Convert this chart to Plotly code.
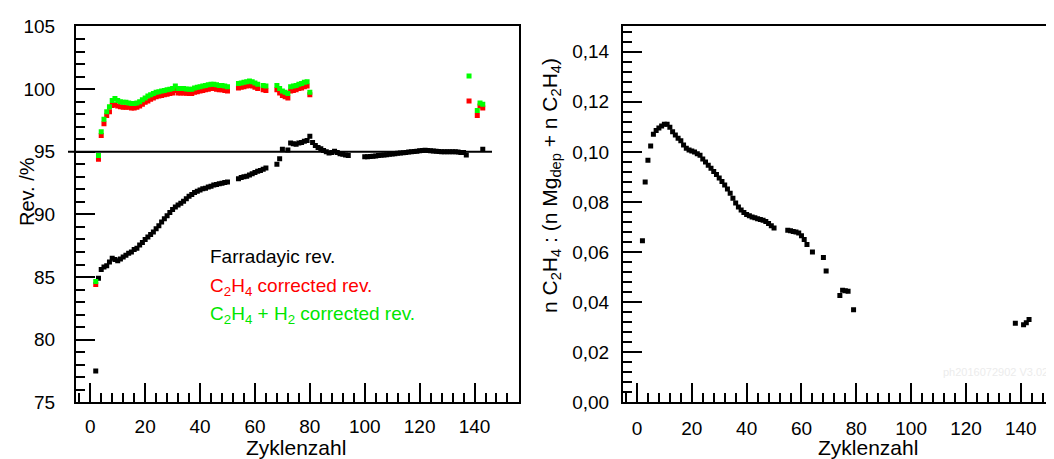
import plotly.graph_objects as go

# ---------------- data ----------------
cyc_far = [2, 3, 4, 5, 6, 7, 8, 9, 10, 11, 12, 13, 14, 15, 16, 17, 18, 19, 20,
           21, 22, 23, 24, 25, 26, 27, 28, 29, 30, 31, 32, 33, 34, 35, 36, 37, 38, 39, 40,
           41, 42, 43, 44, 45, 46, 47, 48, 49, 50,
           54, 55, 56, 57, 58, 59, 60, 61, 62, 63, 64,
           68, 69, 70, 72, 73, 74, 75, 76, 77, 78, 79, 80,
           81, 82, 83, 84, 85, 86, 87, 88, 89, 90, 91, 92, 93, 94,
           100, 101, 102, 103, 104, 105, 106, 107, 108, 109, 110, 111, 112, 113, 114, 115,
           116, 117, 118, 119, 120, 121, 122, 123, 124, 125, 126, 127, 128, 129, 130,
           131, 132, 133, 134, 135, 136, 137, 143]
rev_far = [77.5, 84.9, 85.6, 85.8, 85.9, 86.2, 86.5, 86.4, 86.3, 86.45, 86.6, 86.75, 86.9, 87.0, 87.2, 87.3, 87.55, 87.75, 88.0,
           88.2, 88.4, 88.6, 88.85, 89.1, 89.4, 89.65, 89.9, 90.15, 90.4, 90.6, 90.75, 90.9, 91.05, 91.25, 91.45, 91.6, 91.75, 91.85, 91.95,
           92.05, 92.1, 92.2, 92.25, 92.35, 92.4, 92.45, 92.5, 92.55, 92.6,
           92.85, 92.95, 93.0, 93.05, 93.15, 93.25, 93.35, 93.45, 93.5, 93.6, 93.7,
           94.0, 94.45, 95.2, 95.15, 95.7, 95.65, 95.6, 95.7, 95.75, 95.85, 95.9, 96.25,
           95.75, 95.5, 95.35, 95.25, 95.1, 95.0, 94.9, 94.95, 95.05, 94.95, 94.85, 94.8, 94.75, 94.7,
           94.6, 94.6, 94.62, 94.65, 94.67, 94.7, 94.72, 94.75, 94.77, 94.8, 94.82, 94.85, 94.88, 94.9, 94.93, 94.95,
           94.98, 95.0, 95.03, 95.05, 95.08, 95.1, 95.12, 95.1, 95.08, 95.07, 95.05, 95.03, 95.0, 95.0, 95.0,
           95.0, 95.0, 95.0, 94.98, 94.95, 94.95, 94.75, 95.2]

cyc_corr = [2, 3, 4, 5, 6, 7, 8, 9, 10, 11, 12, 13, 14, 15, 16, 17, 18, 19, 20,
            21, 22, 23, 24, 25, 26, 27, 28, 29, 30, 31, 32, 33, 34, 35, 36, 37, 38, 39, 40,
            41, 42, 43, 44, 45, 46, 47, 48, 49, 50,
            54, 55, 56, 57, 58, 59, 60, 61, 63, 64,
            68, 69, 70, 71, 72, 73, 74, 75, 76, 77, 78, 79, 80,
            138, 141, 142, 143]
rev_c2h4 = [84.4, 94.4, 96.3, 97.25, 97.9, 98.2, 98.7, 98.75, 98.65, 98.6, 98.55, 98.55, 98.55, 98.5, 98.5, 98.55, 98.65, 98.8, 98.95,
            99.05, 99.2, 99.3, 99.4, 99.45, 99.5, 99.55, 99.6, 99.65, 99.7, 99.9, 99.7, 99.7, 99.7, 99.68, 99.65, 99.65, 99.75, 99.8, 99.85,
            99.9, 99.95, 100.0, 100.05, 100.05, 100.0, 99.95, 99.95, 99.9, 99.85,
            100.1, 100.15, 100.2, 100.25, 100.3, 100.25, 100.15, 100.05, 99.95, 99.9,
            99.95, 99.7, 99.5, 99.4, 99.3, 99.85, 99.9, 99.95, 100.05, 100.1, 100.2, 100.25, 99.55,
            99.05, 97.9, 98.65, 98.5]
rev_c2h4_h2 = [84.65, 94.7, 96.6, 97.6, 98.2, 98.6, 99.1, 99.25, 99.1, 99.0, 98.95, 98.95, 98.9, 98.85, 98.85, 98.9, 99.0, 99.15, 99.3,
               99.45, 99.55, 99.65, 99.75, 99.8, 99.85, 99.9, 99.95, 100.0, 100.05, 100.25, 100.05, 100.05, 100.05, 100.02, 100.0, 100.0, 100.1, 100.15, 100.2,
               100.25, 100.3, 100.35, 100.4, 100.4, 100.35, 100.3, 100.3, 100.25, 100.2,
               100.45, 100.5, 100.55, 100.6, 100.65, 100.6, 100.5, 100.4, 100.3, 100.25,
               100.3, 100.05, 99.85, 99.75, 99.65, 100.2, 100.25, 100.3, 100.4, 100.45, 100.55, 100.6, 99.75,
               101.05, 98.3, 98.9, 98.8]

cyc_ratio = [2, 3, 4, 5, 6, 7, 8, 9, 10, 11, 12, 13, 14, 15, 16, 17, 18, 19, 20,
             21, 22, 23, 24, 25, 26, 27, 28, 29, 30, 31, 32, 33, 34, 35, 36, 37, 38, 39, 40,
             41, 42, 43, 44, 45, 46, 47, 48, 49, 50,
             55, 56, 57, 58, 59, 60, 61, 62, 64, 68, 69, 74, 75, 76, 77, 79,
             138, 141, 142, 143]
ratio = [0.0645, 0.088, 0.0967, 0.1024, 0.107, 0.1085, 0.1095, 0.1103, 0.111, 0.111, 0.1098, 0.108, 0.1067, 0.1055, 0.1045, 0.1028, 0.1015, 0.1008, 0.1004,
         0.1, 0.0993, 0.0987, 0.0972, 0.096, 0.0947, 0.0935, 0.0922, 0.091, 0.0896, 0.0882, 0.0868, 0.0852, 0.0835, 0.0815, 0.0796, 0.078, 0.0768, 0.0758, 0.075,
         0.0745, 0.074, 0.0737, 0.0733, 0.073, 0.0727, 0.0722, 0.0714, 0.0705, 0.0696,
         0.0687, 0.0685, 0.0682, 0.068, 0.0676, 0.0665, 0.065, 0.063, 0.06, 0.0578, 0.0524, 0.0427, 0.0447, 0.0445, 0.0443, 0.037,
         0.0316, 0.031, 0.0318, 0.0331]

ref_level = 95
x_ticks = [0, 20, 40, 60, 80, 100, 120, 140]

# ---------------- figure ----------------
FONT = "Arial, 'Liberation Sans', sans-serif"
PAGE_W, PAGE_H = 1054, 459
OFF = 8                      # default body margin of the html page
W, H = PAGE_W - OFF, PAGE_H - OFF


def fx(px):  # page pixel -> paper x
    return (px - OFF) / W


def fy(py):  # page pixel -> paper y
    return 1 - (py - OFF) / H


fig = go.Figure()

mk = dict(symbol="square", size=5, line=dict(width=0))
fig.add_trace(go.Scatter(x=cyc_far, y=rev_far, mode="markers", marker=dict(color="#000000", **mk),
                         xaxis="x", yaxis="y", name="Farradayic rev.", showlegend=False))
fig.add_trace(go.Scatter(x=cyc_corr, y=rev_c2h4, mode="markers", marker=dict(color="#ff0000", **mk),
                         xaxis="x", yaxis="y", name="C2H4 corrected rev.", showlegend=False))
fig.add_trace(go.Scatter(x=cyc_corr, y=rev_c2h4_h2, mode="markers", marker=dict(color="#00ff00", **mk),
                         xaxis="x", yaxis="y", name="C2H4 + H2 corrected rev.", showlegend=False))
fig.add_trace(go.Scatter(x=cyc_ratio, y=ratio, mode="markers", marker=dict(color="#000000", **mk),
                         xaxis="x2", yaxis="y2", name="ratio", showlegend=False))

ydom = [fy(402.3), fy(25.7)]

axis_common = dict(showgrid=False, zeroline=False, showline=True, linecolor="#000000", linewidth=1.5,
                   ticks="inside", ticklen=20, tickwidth=1.5, tickcolor="#000000", automargin=False,
                   tickfont=dict(family=FONT, size=19, color="#000000"))

fig.update_layout(
    width=W, height=H,
    margin=dict(l=0, r=0, t=0, b=0),
    paper_bgcolor="white", plot_bgcolor="white",
    separators=",.",
    font=dict(family=FONT, color="#000000"),
    xaxis=dict(domain=[fx(75.7), fx(519)], range=[-5.3, 156.2], tickvals=x_ticks, mirror=True,
               minor=dict(dtick=4, tick0=0, ticks="inside", ticklen=10, tickwidth=1.5, tickcolor="#000000"),
               ticklabelstandoff=6, **axis_common),
    yaxis=dict(domain=ydom, range=[75, 105.07], dtick=5, tick0=75, mirror=True, anchor="x",
               minor=dict(dtick=1, tick0=75, ticks="inside", ticklen=10, tickwidth=1.5, tickcolor="#000000"),
               ticklabelstandoff=15, **axis_common),
    xaxis2=dict(domain=[fx(622.7), 1.0], range=[-5.2, 152.1], tickvals=x_ticks, mirror=True, anchor="y2",
                minor=dict(dtick=4, tick0=0, ticks="inside", ticklen=10, tickwidth=1.5, tickcolor="#000000"),
                ticklabelstandoff=8, **axis_common),
    yaxis2=dict(domain=ydom, range=[0, 0.1504], dtick=0.02, tick0=0, tickformat=".2f", mirror=False, anchor="x2",
                minor=dict(dtick=0.004, tick0=0, ticks="inside", ticklen=10, tickwidth=1.5, tickcolor="#000000"),
                ticklabelstandoff=8, **axis_common),
)

# reference line at 95 % (extends slightly outside the left frame)
fig.add_shape(type="line", xref="paper", yref="y", x0=fx(68), x1=fx(492), y0=ref_level, y1=ref_level,
              line=dict(color="#000000", width=2), layer="above")

ann = []
ann.append(dict(text="Rev. /%", x=fx(27), y=fy(192), textangle=-90, font=dict(size=20)))
ann.append(dict(text="Zyklenzahl", x=fx(296), y=fy(447.5), font=dict(size=21)))
ann.append(dict(text="Zyklenzahl", x=fx(868), y=fy(447.5), font=dict(size=21)))
ann.append(dict(text="n C<sub>2</sub>H<sub>4</sub> : (n Mg<sub>dep</sub> + n C<sub>2</sub>H<sub>4</sub>)",
                x=fx(551), y=fy(186), textangle=-90, font=dict(size=21)))
ann.append(dict(text="Farradayic rev.", x=fx(208), y=fy(256), xanchor="left", font=dict(size=19, color="#000000")))
ann.append(dict(text="C<sub>2</sub>H<sub>4</sub> corrected rev.", x=fx(208), y=fy(287), xanchor="left",
                font=dict(size=19, color="#ff0000")))
ann.append(dict(text="C<sub>2</sub>H<sub>4</sub> + H<sub>2</sub> corrected rev.", x=fx(208), y=fy(315), xanchor="left",
                font=dict(size=19, color="#00e600")))
ann.append(dict(text="ph2016072902 V3.02", x=fx(1050), y=fy(372), xanchor="right",
                font=dict(size=11, color="#ececec")))
for a in ann:
    a.setdefault("xanchor", "center")
    a.update(xref="paper", yref="paper", yanchor="middle", showarrow=False)
    a["font"].setdefault("color", "#000000")
    a["font"]["family"] = FONT
fig.update_layout(annotations=ann)

fig.write_html("out.html")
